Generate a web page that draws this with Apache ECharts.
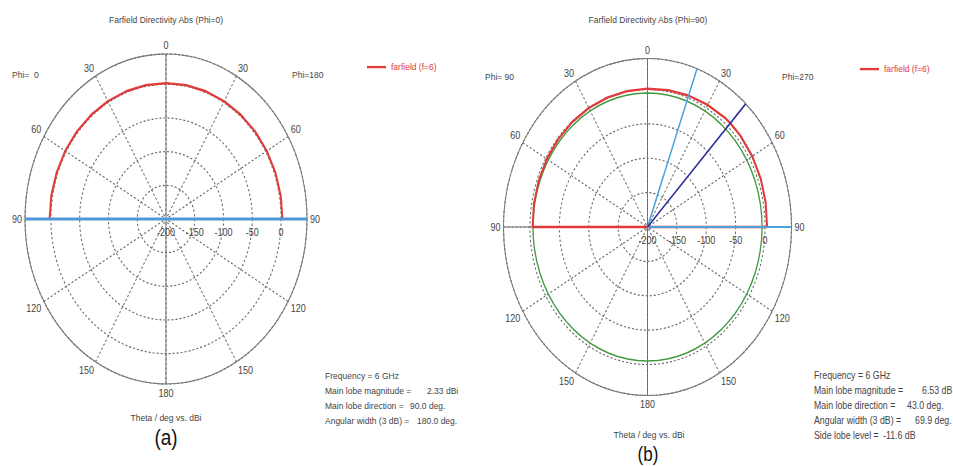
<!DOCTYPE html>
<html><head><meta charset="utf-8">
<script src="https://cdn.jsdelivr.net/npm/echarts@6/dist/echarts.min.js"></script>
<style>
html,body{margin:0;padding:0;background:#fff;overflow:hidden;width:953px;height:466px}
#chart{position:absolute;left:0;top:0;width:953px;height:399px;transform:scaleY(1.17);transform-origin:0 0}
</style></head><body><div id="chart"></div>
<script>
// ---- data ----
const radialMin = -200, radialMax = 45, radialStep = 50;
const angleStep = 30;

// Plot (a): Phi=0 cut, theta in degrees (negative = Phi=0 side, drawn on the left)
const thetaA = [-90,-80,-70,-60,-50,-40,-30,-20,-10,0,10,20,30,40,50,60,70,80,90];
const gainA  = [2.3,2.3,2.2,2.2,2.1,2.0,2.0,1.9,1.9,1.8,1.9,1.9,2.0,2.0,2.1,2.2,2.2,2.3,2.33];
const markerAnglesA = [-90, 90];

// Plot (b): Phi=90 cut
const thetaB = [-90,-80,-70,-60,-50,-40,-30,-20,-10,0,10,20,30,40,43,50,60,70,80,90];
const gainB  = [-4.6,-3.8,-3.0,-2.2,-1.5,-0.8,-0.3,0.2,0.6,1.1,2.0,3.5,5.0,6.4,6.53,6.4,5.8,5.0,4.2,3.5];
const mainLobeDirB = 43.0;
const widthEdgesB = [20.1, 90];
const mainLobeMagB = 6.53;
const sideLobeRelB = -11.6;

const infoLabelsA = ['Frequency = 6 GHz','Main lobe magnitude =','Main lobe direction =','Angular width (3 dB) ='];
const infoValuesA = ['','2.33 dBi','90.0 deg.','180.0 deg.'];
const infoLabelsB = ['Frequency = 6 GHz','Main lobe magnitude =','Main lobe direction =','Angular width (3 dB) =','Side lobe level ='];
const infoValuesB = ['','6.53 dB','43.0 deg.','69.9 deg.','-11.6 dB'];

// ---- layout ----
const S = 1.17;
const Y = y => y / S;
const FONT = '"Liberation Sans", Arial, sans-serif';
const GRAY = '#7a7a7a';

const toAng = t => t + 360; // angle-axis value (90..450, east = 90, clockwise)
const curve = (th, g) => th.map((t, i) => [g[i], toAng(t)]);
const ray = t => [[radialMin, toAng(t)], [radialMax, toAng(t)]];
const circle = r => { const d = []; for (let a = 90; a <= 450; a += 5) d.push([r, a]); return d; };

function polarPair(cx, cy, r) {
  return [{center: [cx, Y(cy)], radius: r}, {center: [cx, Y(cy)], radius: r}];
}
function angleAxes(pIdx) {
  return [
    {polarIndex: pIdx, type: 'value', min: 90, max: 450, interval: 90, startAngle: 0, clockwise: true,
     axisLine: {show: true, lineStyle: {color: GRAY, width: 1}}, axisTick: {show: false}, axisLabel: {show: false},
     splitLine: {show: true, lineStyle: {color: GRAY, width: 1, type: 'solid'}}},
    {polarIndex: pIdx + 1, type: 'value', min: 90, max: 450, interval: angleStep, startAngle: 0, clockwise: true,
     axisLine: {show: false}, axisTick: {show: false},
     axisLabel: {color: '#444', fontSize: 9, fontFamily: FONT, margin: 3,
       formatter: v => { const c = ((v % 360) + 360) % 360; return String(c <= 180 ? c : 360 - c); }},
     splitLine: {show: true, lineStyle: {color: '#666', width: 1, type: [2, 2]}}}
  ];
}
function radiusAxes(pIdx) {
  return [
    {polarIndex: pIdx, type: 'value', min: radialMin, max: radialMax, interval: radialStep, show: false},
    {polarIndex: pIdx + 1, type: 'value', min: radialMin, max: radialMax, interval: radialStep,
     axisLine: {show: false}, axisTick: {show: false},
     axisLabel: {color: '#444', fontSize: 9, fontFamily: FONT, showMaxLabel: false, verticalAlign: 'top', margin: -7},
     splitLine: {show: true, lineStyle: {color: '#666', width: 1, type: [2, 2]}}}
  ];
}

const lineS = (pIdx, name, data, color, width, z) => ({
  type: 'line', coordinateSystem: 'polar', polarIndex: pIdx, name, data,
  symbol: 'none', smooth: false, silent: true, z: z || 3,
  lineStyle: {color, width}, itemStyle: {color}
});

const txt = (text, x, y, opt) => ({
  type: 'text', x, y: Y(y), silent: true,
  style: Object.assign({text, fill: '#444', font: '8.5px ' + FONT, align: 'left', verticalAlign: 'middle'}, opt || {})
});

const graphics = [
  txt('Farfield Directivity Abs (Phi=0)', 166, 20, {align: 'center'}),
  txt('Farfield Directivity Abs (Phi=90)', 648, 20, {align: 'center'}),
  txt('Phi=  0', 12, 75), txt('Phi=180', 292, 75),
  txt('Phi= 90', 485, 77), txt('Phi=270', 782, 77),
  txt('Theta / deg vs. dBi', 166, 418, {align: 'center'}),
  txt('Theta / deg vs. dBi', 649, 435, {align: 'center'}),
  txt('(a)', 166, 437, {align: 'center', font: '19px ' + FONT, fill: '#111'}),
  txt('(b)', 648, 454, {align: 'center', font: '17px ' + FONT, fill: '#111'})
];
const rowsA = [376, 391, 406, 421], valXA = [0, 427, 410, 417];
infoLabelsA.forEach((s, i) => { graphics.push(txt(s, 325, rowsA[i])); if (infoValuesA[i]) graphics.push(txt(infoValuesA[i], valXA[i], rowsA[i])); });
const rowsB = [375, 390, 405, 420, 435], valXB = [0, 922, 907, 915, 883];
infoLabelsB.forEach((s, i) => { graphics.push(txt(s, 814, rowsB[i], {font: '8.8px ' + FONT})); if (infoValuesB[i]) graphics.push(txt(infoValuesB[i], valXB[i], rowsB[i], {font: '8.8px ' + FONT})); });

const RED = '#e03a3a';
const series = [
  // (a)
  lineS(1, 'farfield (f=6)', curve(thetaA, gainA), RED, 2, 3),
  ...markerAnglesA.map(t => lineS(1, 'marker', ray(t), '#4f97d6', 2.5, 4)),
  // (b)
  lineS(3, 'side lobe', circle(mainLobeMagB + sideLobeRelB), '#3f9a3f', 1.3, 3),
  lineS(3, 'farfield (f=6)', [[radialMin, toAng(thetaB[0])]].concat(curve(thetaB, gainB), [[radialMin, toAng(thetaB[thetaB.length - 1])]]), RED, 2, 3),
  ...widthEdgesB.map(t => lineS(3, 'width', ray(t), '#4aa3dc', 1.5, 4)),
  lineS(3, 'main lobe', ray(mainLobeDirB), '#2b2b9c', 1.5, 5)
];

const legendCommon = {data: [{name: 'farfield (f=6)', icon: 'rect'}], orient: 'horizontal', itemWidth: 19, itemHeight: 2, itemGap: 4,
  selectedMode: false, textStyle: {color: RED, fontSize: 8.5, fontFamily: FONT}};

const option = {
  animation: false,
  backgroundColor: '#fff',
  polar: [...polarPair(166, 219, 141), ...polarPair(647.5, 227, 144)],
  angleAxis: [...angleAxes(0), ...angleAxes(2)],
  radiusAxis: [...radiusAxes(0), ...radiusAxes(2)],
  legend: [Object.assign({left: 362, top: Y(63) - 6}, legendCommon), Object.assign({left: 855, top: Y(65) - 6}, legendCommon)],
  graphic: graphics,
  series
};
const chart = echarts.init(document.getElementById('chart'), null, {renderer: 'svg'});
chart.setOption(option);
</script></body></html>
